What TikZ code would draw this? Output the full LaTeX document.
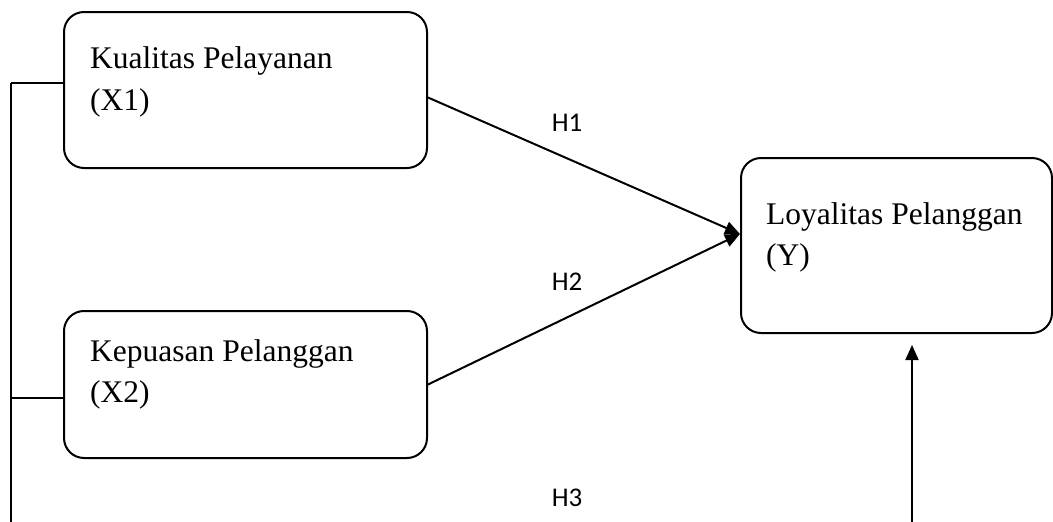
\documentclass[tikz,border=0pt]{standalone}
\usepackage{fontspec}
\setmainfont{Liberation Serif}
\newfontfamily\calfont{Carlito}
\usetikzlibrary{arrows.meta}
\begin{document}
\begin{tikzpicture}[x=1pt,y=-1pt,
  box/.style={draw, line width=2pt, rounded corners=20pt, inner sep=0pt, anchor=north west},
  lbl/.style={font=\fontsize{31.5}{38}\selectfont, inner sep=0pt, anchor=base west},
  hlbl/.style={font=\calfont\fontsize{27}{32}\selectfont, inner sep=0pt},
  conn/.style={line width=2pt, -{Triangle[length=15pt,width=13pt]}},
  tie/.style={line width=1.2pt},
  spine/.style={line width=2pt}]
\useasboundingbox (0,0) rectangle (1053,522);
% boxes
\node[box, minimum width=363pt, minimum height=156pt] (x1) at (63,11) {};
\node[box, minimum width=363pt, minimum height=147pt] (x2) at (63,310) {};
\node[box, minimum width=311pt, minimum height=175pt] (y) at (740,157) {};
% texts
\node[lbl] (x1a) at (90,68) {Kualitas Pelayanan};
\node[lbl] (x1b) at (90,110) {(X1)};
\node[lbl] (x2a) at (90,361) {Kepuasan Pelanggan};
\node[lbl] (x2b) at (90,402) {(X2)};
\node[lbl] (ya) at (766,224) {Loyalitas Pelanggan};
\node[lbl] (yb) at (766,265) {(Y)};
% hypothesis labels
\node[hlbl] (h1) at (567,123) {H1};
\node[hlbl] (h2) at (567,282) {H2};
\node[hlbl] (h3) at (567,498) {H3};
% connectors
\draw[conn] ([yshift=-7.5pt]x1.east) -- ([yshift=11.5pt]y.west);
\draw[conn] (x2.east) -- ([yshift=11.5pt]y.west);
\coordinate (vb) at (912,522);
\coordinate (vt) at (912,345);
\draw[conn] (vb) -- (vt);
% left spine
\coordinate (lt) at (11,83);
\coordinate (lm) at (11,398);
\coordinate (lb) at (11,522);
\draw[spine] (lt) -- (lb);
\draw[tie] (lt) -- (lt -| x1.west);
\draw[tie] (lm) -- (lm -| x2.west);
\end{tikzpicture}
\end{document}
